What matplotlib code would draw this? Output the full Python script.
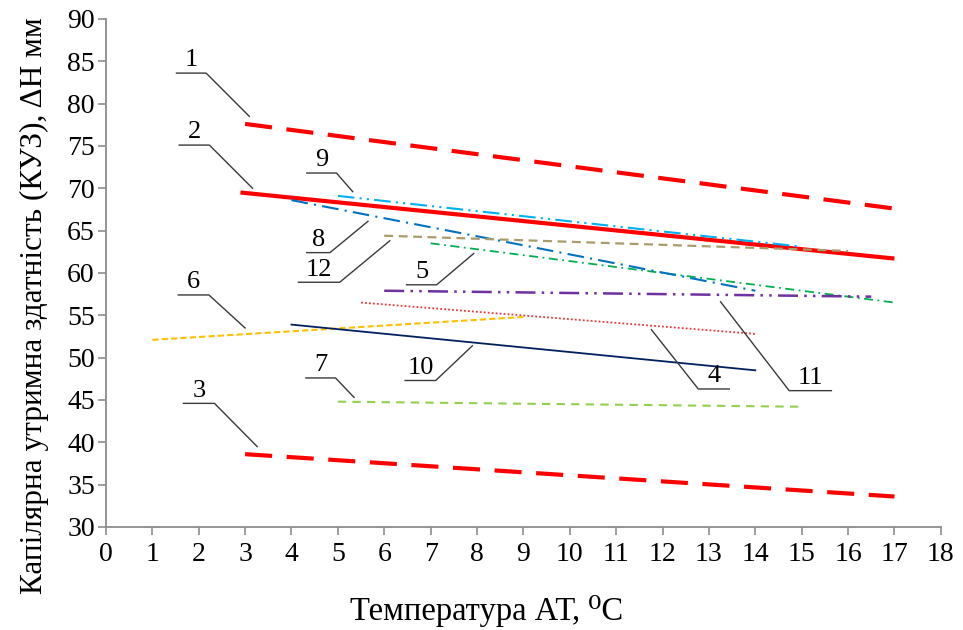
import matplotlib
matplotlib.use("Agg")
import matplotlib.pyplot as plt

plt.rcParams['font.family'] = ['Liberation Serif', 'DejaVu Serif']
plt.rcParams['font.size'] = 18

# curve data (temperature, capillary retention)
x1 = [3, 17]
y1 = [77.6, 67.6]
x2 = [2.9, 17]
y2 = [69.5, 61.7]
x3 = [3, 17]
y3 = [38.6, 33.6]
x4 = [5.5, 14]
y4 = [56.5, 52.8]
x5 = [7, 17]
y5 = [63.5, 56.5]
x6 = [1, 9]
y6 = [52.1, 54.8]
x7 = [5, 15]
y7 = [44.8, 44.2]
x8 = [4, 8.5, 14]
y8 = [68.6, 63.8, 57.9]
x9 = [5, 15]
y9 = [69.1, 63.1]
x10 = [4, 14]
y10 = [53.9, 48.5]
x11 = [6, 16.5]
y11 = [57.9, 57.2]
x12 = [6, 16]
y12 = [64.4, 62.6]

labels = ['1', '2', '3', '4', '5', '6', '7', '8', '9', '10', '11', '12']

fig = plt.figure(figsize=(9.63, 6.3), dpi=100)
ax = fig.add_axes([0.110, 0.1635, 0.867, 0.8065])

red = '#FF0000'
ax.plot(x1, y1, color=red, lw=3, ls=(0, (6.5, 3.5)))
ax.plot(x2, y2, color=red, lw=3, solid_capstyle='butt')
ax.plot(x3, y3, color=red, lw=3, ls=(0, (6.5, 3.5)))
ax.plot(x4, y4, color='#E8383D', lw=1.3, ls=(0, (1, 1.2)))
ax.plot(x5, y5, color='#00B050', lw=1.3, ls=(0, (5, 2.5, 1, 2.5)))
ax.plot(x6, y6, color='#FFC000', lw=1.5, ls=(0, (3, 1.5)))
ax.plot(x7, y7, color='#92D050', lw=1.5, ls=(0, (4, 3)))
ax.plot(x8, y8, color='#0070C0', lw=1.5, ls=(0, (8, 3, 1, 3)))
ax.plot(x9, y9, color='#00B0F0', lw=1.5, ls=(0, (8, 2.5, 1, 2.5, 1, 2.5)))
ax.plot(x10, y10, color='#002060', lw=1.3)
ax.plot(x11, y11, color='#7030A0', lw=1.8, ls=(0, (8, 2.5, 1, 2.5, 1, 2.5)))
ax.plot(x12, y12, color='#A89B6C', lw=1.6, ls=(0, (4, 2.5)))

# leader lines: horizontal shelf (xa, xb, y) then a stroke to (xe, ye)
leaders = {
    '1': (1.52, 2.16, 83.6, 3.09, 78.5),
    '2': (1.58, 2.23, 75.1, 3.16, 70.0),
    '3': (1.67, 2.34, 44.6, 3.26, 39.5),
    '4': (13.44, 12.77, 46.3, 11.76, 53.3),
    '5': (6.48, 7.13, 58.6, 7.93, 62.3),
    '6': (1.56, 2.22, 57.4, 3.00, 53.5),
    '7': (4.31, 4.95, 47.6, 5.35, 45.3),
    '8': (4.33, 4.83, 62.4, 5.65, 66.1),
    '9': (4.33, 4.97, 71.8, 5.32, 69.6),
    '10': (6.45, 7.11, 47.3, 7.90, 51.4),
    '11': (15.64, 14.73, 46.1, 13.25, 56.6),
    '12': (4.15, 5.04, 58.9, 6.12, 63.8),
}
for lab in labels:
    xa, xb, yy, xe, ye = leaders[lab]
    ax.plot([xa, xb, xe], [yy, yy, ye], color='#3a3a3a', lw=1.0)
    ax.text((xa + xb) / 2, yy + 0.2, lab, ha='center', va='bottom', fontsize=19)

ax.set_xlim(0, 18)
ax.set_ylim(30, 90)
ax.set_xticks(range(0, 19))
ax.set_yticks(range(30, 91, 5))
for s in ['top', 'right']:
    ax.spines[s].set_visible(False)
for s in ['left', 'bottom']:
    ax.spines[s].set_color('#8c8c8c')
    ax.spines[s].set_linewidth(1.3)
ax.tick_params(color='#8c8c8c', length=6, width=1.2, labelsize=20)
ax.tick_params(axis='x', pad=5)
ax.tick_params(axis='y', pad=2)

fig.text(487 / 963, 1 - 620 / 630, 'Температура АТ, ⁰С', fontsize=23.5,
         ha='center', va='baseline')
fig.text(42 / 963, 1 - 306 / 630, 'Капілярна утримна здатність (КУЗ), ΔН мм',
         fontsize=22.5, rotation=90, rotation_mode='anchor',
         ha='center', va='baseline')

fig.savefig('out.png', dpi=100)
